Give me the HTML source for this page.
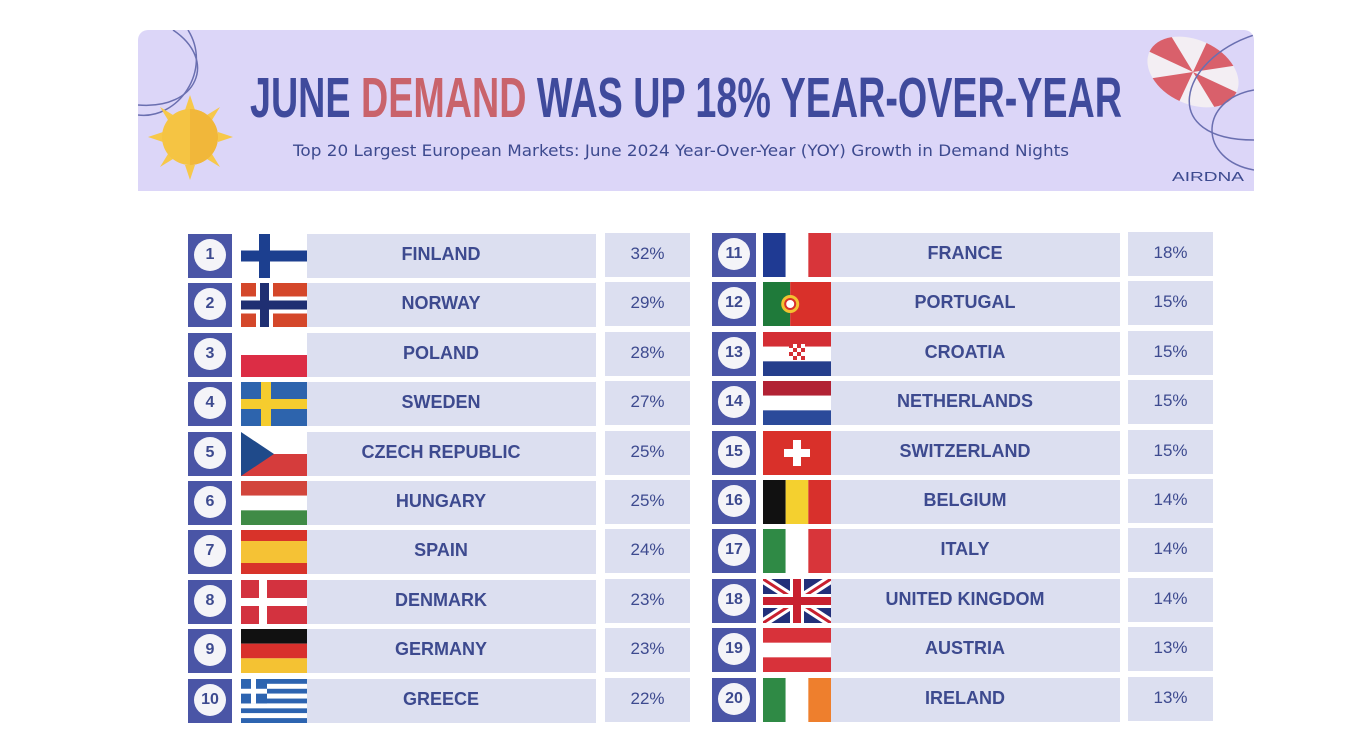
<!DOCTYPE html>
<html><head><meta charset="utf-8">
<style>
html,body{margin:0;padding:0;background:#fff;}
body{width:1346px;height:752px;position:relative;overflow:hidden;font-family:"Liberation Sans",sans-serif;}
#header{position:absolute;left:138px;top:30px;width:1116px;height:161px;background:#dcd6f8;border-radius:10px 10px 0 0;overflow:hidden;}
.row-el{position:absolute;}
.num{background:#4a55a6;}
.num .c{position:absolute;left:6px;top:5px;width:32px;height:32px;border-radius:50%;background:#f4f4f8;color:#3d4a8f;font-weight:bold;font-size:16px;text-align:center;line-height:32px;}
.name{background:#dcdff0;color:#3d4a8f;font-weight:bold;font-size:18px;text-align:center;box-sizing:border-box;padding-right:21px;}
.pct{background:#dcdff0;color:#3d4a8f;font-size:17px;text-align:center;}
</style></head>
<body>
<div id="header">
<svg width="1116" height="161" style="position:absolute;left:0;top:0">
  <path d="M35 0 C80 30 60 80 0 75" fill="none" stroke="#6a6fb0" stroke-width="1.5"/>
  <path d="M50 0 C75 40 40 90 0 85" fill="none" stroke="#6a6fb0" stroke-width="1.5"/>
  <g>
    <g fill="#f7c84a">
      <polygon points="52,65 57,80 47,80"/><polygon points="52,150 57,135 47,135"/>
      <polygon points="10,107 25,102 25,112"/><polygon points="95,107 80,102 80,112"/>
      <polygon points="22,77 35,85 30,90"/><polygon points="82,77 74,90 69,85"/>
      <polygon points="22,137 30,124 35,129"/><polygon points="82,137 69,129 74,124"/>
    </g>
    <circle cx="52" cy="107" r="28" fill="#f5c443"/>
    <path d="M52 79 A28 28 0 0 1 52 135Z" fill="#f1b73a"/>
  </g>
  <text x="112" y="87" textLength="872" lengthAdjust="spacingAndGlyphs" font-family="Liberation Sans Narrow, Liberation Sans, sans-serif" font-weight="bold" font-size="57" fill="#3f4a9c">JUNE <tspan fill="#c9636b">DEMAND</tspan> WAS UP 18% YEAR-OVER-YEAR</text>
  <text x="155" y="126" textLength="776" lengthAdjust="spacingAndGlyphs" font-family="DejaVu Sans, sans-serif" font-size="16" fill="#3d4a8f">Top 20 Largest European Markets: June 2024 Year-Over-Year (YOY) Growth in Demand Nights</text>
  <g transform="translate(1055,42) rotate(25)">
    <ellipse cx="0" cy="0" rx="48" ry="32" fill="#f3eef3"/>
    <path d="M0 0 L48 0 A48 32 0 0 1 34 22.6Z" fill="#d9606b"/>
    <path d="M0 0 L0 32 A48 32 0 0 1 -34 22.6Z" fill="#d9606b"/>
    <path d="M0 0 L-48 0 A48 32 0 0 1 -34 -22.6Z" fill="#d9606b"/>
    <path d="M0 0 L0 -32 A48 32 0 0 1 34 -22.6Z" fill="#d9606b"/>
  </g>
  <path d="M1116 5 C1040 30 1020 110 1116 110" fill="none" stroke="#6a6fb0" stroke-width="1.5"/>
  <path d="M1116 60 C1060 70 1060 130 1116 140" fill="none" stroke="#6a6fb0" stroke-width="1.5"/>
  <text x="1034" y="151" textLength="72" lengthAdjust="spacingAndGlyphs" font-family="Liberation Sans, sans-serif" font-size="13" fill="#3d4a8f">AIRDNA</text>
</svg>
</div>
<div id="table"></div>
<script>
const countries=["FINLAND","NORWAY","POLAND","SWEDEN","CZECH REPUBLIC","HUNGARY","SPAIN","DENMARK","GERMANY","GREECE","FRANCE","PORTUGAL","CROATIA","NETHERLANDS","SWITZERLAND","BELGIUM","ITALY","UNITED KINGDOM","AUSTRIA","IRELAND"];
const growth=[32,29,28,27,25,25,24,23,23,22,18,15,15,15,15,14,14,14,13,13];
const flagKeys=["fi","no","pl","se","cz","hu","es","dk","de","gr","fr","pt","hr","nl","ch","be","it","gb","at","ie"];

function flagSvg(k,w,h){
  const r=(x,y,ww,hh,c)=>`<rect x="${x}" y="${y}" width="${ww}" height="${hh}" fill="${c}"/>`;
  let s='';
  const H3=h/3;
  switch(k){
    case 'fi':s=r(0,0,w,h,'#fff')+r(18,0,11,h,'#1c3f8f')+r(0,h/2-5.5,w,11,'#1c3f8f');break;
    case 'no':s=r(0,0,w,h,'#d4472a')+r(15,0,17,h,'#fff')+r(0,h/2-8.5,w,17,'#fff')+r(19,0,9,h,'#1f2f72')+r(0,h/2-4.5,w,9,'#1f2f72');break;
    case 'pl':s=r(0,0,w,h/2,'#fff')+r(0,h/2,w,h/2,'#dc2d45');break;
    case 'se':s=r(0,0,w,h,'#2d64ad')+r(20,0,10,h,'#f5cc2e')+r(0,h/2-5,w,10,'#f5cc2e');break;
    case 'cz':s=r(0,0,w,h/2,'#fff')+r(0,h/2,w,h/2,'#d53c3c')+`<polygon points="0,0 ${w/2},${h/2} 0,${h}" fill="#1f4a8a"/>`;break;
    case 'hu':s=r(0,0,w,H3,'#d2453c')+r(0,H3,w,H3,'#fff')+r(0,2*H3,w,H3,'#3f8b46');break;
    case 'es':s=r(0,0,w,h,'#d8332a')+r(0,h/4,w,h/2,'#f5c235');break;
    case 'dk':s=r(0,0,w,h,'#d3323f')+r(18,0,8,h,'#fff')+r(0,h/2-4,w,8,'#fff');break;
    case 'de':s=r(0,0,w,H3,'#111')+r(0,H3,w,H3,'#d8302c')+r(0,2*H3,w,H3,'#f4c233');break;
    case 'gr':{for(let i=0;i<9;i++)s+=r(0,i*h/9,w,h/9,i%2?'#fff':'#2d64b0');s+=r(0,0,26,h*5/9,'#2d64b0')+r(10,0,5,h*5/9,'#fff')+r(0,h*2/9,26,h/9,'#fff');break;}
    case 'fr':s=r(0,0,w/3,h,'#1f3a93')+r(w/3,0,w/3,h,'#fff')+r(2*w/3,0,w/3,h,'#d8353a');break;
    case 'pt':s=r(0,0,w*0.4,h,'#1f7a3a')+r(w*0.4,0,w*0.6,h,'#d9302a')+`<circle cx="${w*0.4}" cy="${h/2}" r="9" fill="#f3c230"/><circle cx="${w*0.4}" cy="${h/2}" r="5" fill="#fff" stroke="#d9302a" stroke-width="2"/>`;break;
    case 'hr':s=r(0,0,w,H3,'#d42e34')+r(0,H3,w,H3,'#fff')+r(0,2*H3,w,H3,'#253e8c');for(let i=0;i<4;i++)for(let j=0;j<4;j++)s+=r(w/2-8+i*4,h/2-10+j*4,4,4,(i+j)%2?'#fff':'#d42e34');break;
    case 'nl':s=r(0,0,w,H3,'#b22234')+r(0,H3,w,H3,'#fff')+r(0,2*H3,w,H3,'#2b4a9a');break;
    case 'ch':s=r(0,0,w,h,'#d9302a')+r(w/2-4,h/2-13,8,26,'#fff')+r(w/2-13,h/2-4,26,8,'#fff');break;
    case 'be':s=r(0,0,w/3,h,'#111')+r(w/3,0,w/3,h,'#f4d02f')+r(2*w/3,0,w/3,h,'#d8302c');break;
    case 'it':s=r(0,0,w/3,h,'#2f8a45')+r(w/3,0,w/3,h,'#fff')+r(2*w/3,0,w/3,h,'#d8353a');break;
    case 'gb':s=r(0,0,w,h,'#22307a')+`<path d="M0 0L${w} ${h}M${w} 0L0 ${h}" stroke="#fff" stroke-width="9"/><path d="M0 0L${w} ${h}M${w} 0L0 ${h}" stroke="#c8202f" stroke-width="3"/>`+r(w/2-7,0,14,h,'#fff')+r(0,h/2-7,w,14,'#fff')+r(w/2-4,0,8,h,'#c8202f')+r(0,h/2-4,w,8,'#c8202f');break;
    case 'at':s=r(0,0,w,h,'#d8323a')+r(0,H3,w,H3,'#fff');break;
    case 'ie':s=r(0,0,w/3,h,'#2f8a45')+r(w/3,0,w/3,h,'#fff')+r(2*w/3,0,w/3,h,'#ee7f2d');break;
  }
  return `<svg width="${w}" height="${h}">${s}</svg>`;
}

const table=document.getElementById('table');
const cols=[
  {num:188,flag:241,flagW:66,name:307,nameW:289,pct:605,pctW:85,top:231},
  {num:712,flag:763,flagW:68,name:831,nameW:289,pct:1128,pctW:85,top:230}
];
const pitch=49.4, rowH=44;
countries.forEach((c,i)=>{
  const col=cols[Math.floor(i/10)], k=i%10;
  const y=Math.round(col.top+k*pitch);
  const num=document.createElement('div');
  num.className='row-el num';
  num.style.cssText=`left:${col.num}px;top:${y+3}px;width:44px;height:${rowH}px;`;
  num.innerHTML=`<div class="c">${i+1}</div>`;
  
  
  table.appendChild(num);
  const fl=document.createElement('div');
  fl.className='row-el';
  fl.style.cssText=`left:${col.flag}px;top:${y+3}px;width:${col.flagW}px;height:${rowH}px;`;
  fl.innerHTML=flagSvg(flagKeys[i],col.flagW,rowH);
  
  
  table.appendChild(fl);
  const nm=document.createElement('div');
  nm.className='row-el name';
  nm.style.cssText=`left:${col.name}px;top:${y+3}px;width:${col.nameW}px;height:${rowH}px;line-height:${rowH-4}px;`;
  nm.textContent=c;
  
  
  table.appendChild(nm);
  const p=document.createElement('div');
  p.className='row-el pct';
  p.style.cssText=`left:${col.pct}px;top:${y+2}px;width:${col.pctW}px;height:${rowH}px;line-height:${rowH-2}px;`;
  p.textContent=growth[i]+'%';
  
  
  table.appendChild(p);
});
</script>
</body></html>
